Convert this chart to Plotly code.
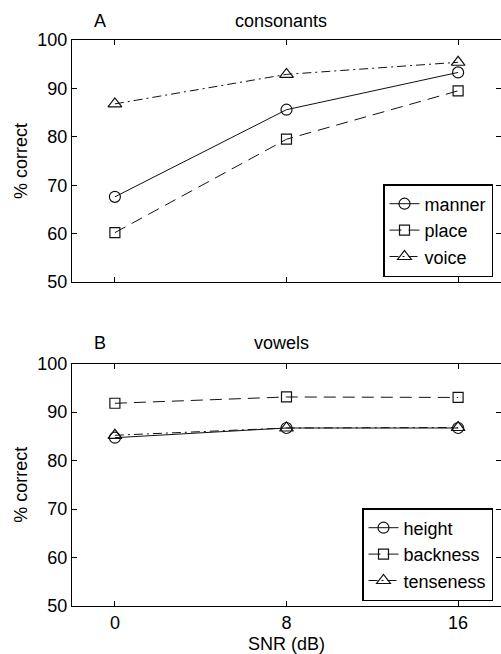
import plotly.graph_objects as go

W, H = 501, 654

snr = [0, 8, 16]
snr_labels = ["0", "8", "16"]

manner = [67.6, 85.6, 93.3]
place = [60.2, 79.5, 89.5]
voice = [86.8, 92.9, 95.4]

height = [84.7, 86.7, 86.7]
backness = [91.8, 93.1, 93.0]
tenseness = [85.2, 86.7, 86.8]

yticks = [50, 60, 70, 80, 90, 100]

FONT = "Liberation Sans, Arial, Helvetica, sans-serif"
FS = 18
INK = "#111111"


def px(x):
    return x / W


def py(y):
    return 1 - y / H


fig = go.Figure()

styles = [
    dict(dash="solid", symbol="circle-open", size=11),
    dict(dash="12px,7px", symbol="square-open", size=10),
    dict(dash="9px,4px,2px,4px", symbol="triangle-up-open", size=12),
]

top = [("manner", manner), ("place", place), ("voice", voice)]
bot = [("height", height), ("backness", backness), ("tenseness", tenseness)]

for (name, vals), st in zip(top, styles):
    fig.add_trace(go.Scatter(
        x=snr, y=vals, name=name, mode="lines+markers",
        line=dict(color=INK, width=1, dash=st["dash"]),
        marker=dict(symbol=st["symbol"], size=st["size"], color=INK,
                    line=dict(width=1.2, color=INK)),
        xaxis="x", yaxis="y", legend="legend",
    ))

for (name, vals), st in zip(bot, styles):
    fig.add_trace(go.Scatter(
        x=snr, y=vals, name=name, mode="lines+markers",
        line=dict(color=INK, width=1, dash=st["dash"]),
        marker=dict(symbol=st["symbol"], size=st["size"], color=INK,
                    line=dict(width=1.2, color=INK)),
        xaxis="x2", yaxis="y2", legend="legend2",
    ))

axis_common = dict(
    showline=True, linecolor="black", linewidth=1, mirror="ticks",
    ticks="inside", ticklen=5, tickcolor="black", showgrid=False,
    zeroline=False, automargin=False,
    tickfont=dict(family=FONT, size=FS, color="black"),
)

xdom = [px(72), 1.0]

legend_common = dict(
    xanchor="right", yanchor="bottom",
    bgcolor="white", bordercolor="black", borderwidth=1.5,
    font=dict(family=FONT, size=FS), tracegroupgap=0, itemwidth=30,
)

ann_common = dict(xref="paper", yref="paper", showarrow=False,
                  xanchor="center", yanchor="middle",
                  font=dict(family=FONT, size=FS))

fig.update_layout(
    width=W, height=H,
    margin=dict(l=0, r=0, t=0, b=0, autoexpand=False),
    paper_bgcolor="white", plot_bgcolor="white",
    font=dict(family=FONT, size=FS, color="black"),
    xaxis=dict(domain=xdom, range=[-2, 18], tickvals=snr, ticktext=snr_labels,
               showticklabels=False, anchor="y", **axis_common),
    yaxis=dict(domain=[py(282), py(40)], range=[50, 100], tickvals=yticks,
               anchor="x", ticklabelstandoff=0,
               title=dict(text="% correct", font=dict(family=FONT, size=FS), standoff=5),
               **axis_common),
    xaxis2=dict(domain=xdom, range=[-2, 18], tickvals=snr, ticktext=snr_labels,
                anchor="y2",
                title=dict(text="SNR (dB)", font=dict(family=FONT, size=FS), standoff=15),
                **axis_common),
    yaxis2=dict(domain=[py(606), py(363.5)], range=[50, 100], tickvals=yticks,
                anchor="x2", ticklabelstandoff=0,
                title=dict(text="% correct", font=dict(family=FONT, size=FS), standoff=5),
                **axis_common),
    legend=dict(x=px(493), y=py(277), **legend_common),
    legend2=dict(x=px(493), y=py(601), **legend_common),
    showlegend=True,
    annotations=[
        dict(text="A", x=px(100), y=py(21), **ann_common),
        dict(text="consonants", x=px(281), y=py(21), **ann_common),
        dict(text="B", x=px(100), y=py(343), **ann_common),
        dict(text="vowels", x=px(281), y=py(343), **ann_common),
    ],
)

fig.write_html("out.html",
               config={"displayModeBar": False},
               post_script="document.body.style.margin='0';document.body.style.overflow='hidden';")
